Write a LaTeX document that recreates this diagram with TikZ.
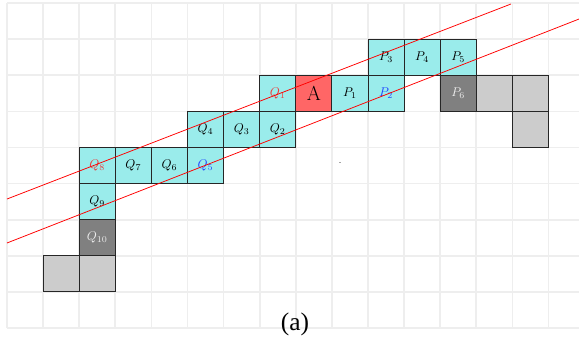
\documentclass[tikz,border=0pt]{standalone}
\usepackage{fontspec}
\newfontfamily\capfont{Liberation Serif}
\definecolor{cellcyan}{RGB}{154,236,235}
\definecolor{cellred}{RGB}{255,102,102}
\definecolor{celldark}{RGB}{128,128,128}
\definecolor{celllight}{RGB}{204,204,204}
\definecolor{gridc}{RGB}{238,238,238}
\definecolor{labred}{RGB}{235,60,60}
\definecolor{labblue}{RGB}{30,70,255}
\tikzset{
  cell/.style={draw=black!85, line width=0.7pt, minimum size=1cm, inner sep=0pt, font=\normalsize},
  cyancell/.style={cell, fill=cellcyan},
  redcell/.style={cell, fill=cellred, font=\fontsize{16}{18}\selectfont},
  darkcell/.style={cell, fill=celldark, text=white!93!black},
  lightcell/.style={cell, fill=celllight},
  redline/.style={red, line width=0.6pt},
}
\begin{document}
\begin{tikzpicture}
\useasboundingbox (-0.194,-0.332) rectangle (15.845,9.086);
\clip (-0.194,-0.332) rectangle (15.845,9.086);
\draw[gridc, line width=1.3pt] (0,0) grid (16,9);
% row 7
\node[cyancell] (P3) at (10.5,7.5) {$P_3$};
\node[cyancell] (P4) at (11.5,7.5) {$P_4$};
\node[cyancell] (P5) at (12.5,7.5) {$P_5$};
% row 6
\node[cyancell] (Q1) at (7.5,6.5) {\color{labred}$Q_1$};
\node[redcell] (A) at (8.5,6.5) {A};
\node[cyancell] (P1) at (9.5,6.5) {$P_1$};
\node[cyancell] (P2) at (10.5,6.5) {\color{labblue}$P_2$};
\node[darkcell] (P6) at (12.5,6.5) {$P_6$};
\node[lightcell] (G1) at (13.5,6.5) {};
\node[lightcell] (G2) at (14.5,6.5) {};
\node[lightcell] (G3) at (14.5,5.5) {};
% row 5
\node[cyancell] (Q4) at (5.5,5.5) {$Q_4$};
\node[cyancell] (Q3) at (6.5,5.5) {$Q_3$};
\node[cyancell] (Q2) at (7.5,5.5) {$Q_2$};
% row 4
\node[cyancell] (Q8) at (2.5,4.5) {\color{labred}$Q_8$};
\node[cyancell] (Q7) at (3.5,4.5) {$Q_7$};
\node[cyancell] (Q6) at (4.5,4.5) {$Q_6$};
\node[cyancell] (Q5) at (5.5,4.5) {\color{labblue}$Q_5$};
% rows 3..1
\node[cyancell] (Q9) at (2.5,3.5) {$Q_9$};
\node[darkcell] (Q10) at (2.5,2.5) {$Q_{10}$};
\node[lightcell] (G4) at (1.5,1.5) {};
\node[lightcell] (G5) at (2.5,1.5) {};
% stray mark
\fill[gray!70] (9.2,4.56) rectangle (9.25,4.6);
% lines
\draw[redline] (0,3.573) -- (13.96,8.975);
\draw[redline] (0,2.355) -- (15.9,8.58);
% caption
\node[font=\capfont\fontsize{20}{22}\selectfont, anchor=base, inner sep=0pt] (cap) at (7.98,-0.083) {(a)};
\end{tikzpicture}
\end{document}
